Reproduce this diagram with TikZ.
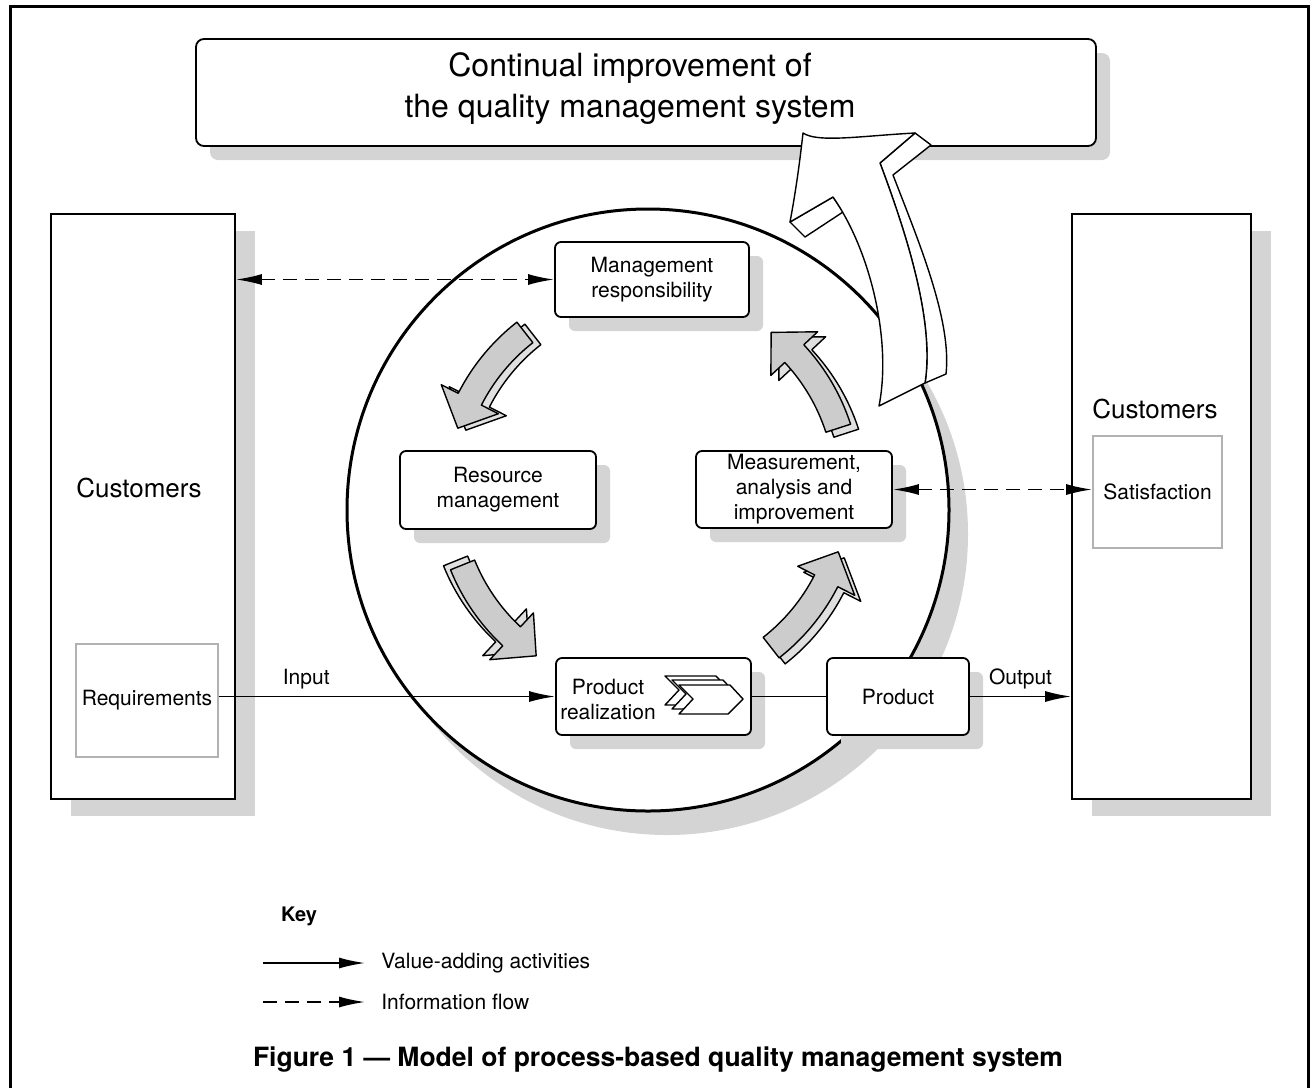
\documentclass[tikz,border=0pt]{standalone}
\usepackage{fontspec}
\setmainfont{TeX Gyre Heros}
\usetikzlibrary{arrows.meta,shadows}

\definecolor{shadegray}{gray}{0.83}
\definecolor{ringgray}{gray}{0.80}
\definecolor{ringside}{gray}{0.88}

\newcommand{\boxfont}{\fontsize{10.5}{12.5}\selectfont}
% one curved arrow of the process cycle, #1 = start angle
\newcommand{\cyclepath}[1]{(#1:93.5pt) arc[start angle=#1, end angle=#1+25, radius=93.5pt] -- (#1+25:84pt) -- (#1+34:100pt) -- (#1+25:116pt) -- (#1+25:106.5pt) arc[start angle=#1+25, end angle=#1, radius=106.5pt] -- cycle}

\tikzset{
  >={Latex[length=13pt,width=5.5pt]},
  procbox/.style={draw, line width=0.9pt, rounded corners=3pt, fill=white, align=center, font=\boxfont, inner sep=1pt,
    drop shadow={shadow xshift=7pt, shadow yshift=-7pt, fill=shadegray, opacity=1}},
  custbox/.style={draw, line width=0.8pt, fill=white, minimum width=92pt, minimum height=292.5pt,
    drop shadow={shadow xshift=10pt, shadow yshift=-8.5pt, fill=shadegray, opacity=1}},
  needbox/.style={draw=black!30, line width=0.8pt, fill=white, font=\boxfont, inner sep=0pt},
  flow/.style={line width=0.8pt, ->},
  info/.style={line width=0.9pt, dash pattern=on 7pt off 4pt, <->},
  ringface/.style={draw, line width=0.7pt, fill=ringgray, line join=round},
  ringback/.style={draw, line width=0.7pt, fill=ringside, line join=round},
  bigface/.style={draw, line width=0.7pt, fill=white, line join=round},
}

\begin{document}
\begin{tikzpicture}[x=0.5pt, y=-0.5pt]
\useasboundingbox (0,0) rectangle (1316,1088);
\draw[line width=1.5pt] (10,1088) -- (10,6) -- (1308,6) -- (1308,1088);

% the big circle
\fill[shadegray] (667,534) circle[radius=150.5pt];
\draw[line width=1.5pt, fill=white] (648,510) circle[radius=150.5pt];

\node[procbox, rounded corners=4pt, minimum width=450pt, minimum height=53.5pt] (topbox) at (646,92.5) {};
\node[font=\fontsize{16}{20.5}\selectfont, align=center] (toptext) at (630,89) {Continual improvement of\\the quality management system};

% customers
\node[custbox] (custL) at (143,506.5) {};
\node[custbox, minimum width=89.5pt] (custR) at (1161.5,506.5) {};
\node[font=\fontsize{13}{15}\selectfont] (custLtext) at (139,488) {Customers};
\node[font=\fontsize{13}{15}\selectfont] (custRtext) at (1155,409) {Customers};
\node[needbox, minimum width=71pt, minimum height=56.5pt] (need) at (147,700.5) {Requirements};
\node[needbox, minimum width=64.5pt, minimum height=56pt] (satis) at (1157.5,492) {Satisfaction};

% processes
\node[procbox, minimum width=97pt, minimum height=37.5pt] (mgmt) at (652,279.5) {Management\\responsibility};
\node[procbox, minimum width=98pt, minimum height=39pt] (resource) at (498,490) {Resource\\management};
\node[procbox, minimum width=98pt, minimum height=38.5pt] (measure) at (794,489.5) {Measurement,\\analysis and\\improvement};
\node[procbox, minimum width=97.5pt, minimum height=38.5pt] (realize) at (653.5,696.5) {};
\node[font=\boxfont, align=center] (realtext) at (608,699) {Product\\realization};
\node[procbox, minimum width=71pt, minimum height=38.5pt] (product) at (898,696.5) {Product};

\draw[line width=0.7pt, fill=white, line join=round] (665,676) -- (716,676) -- (729,690) -- (714,705) -- (665,705) -- (679,690) -- cycle;
\draw[line width=0.7pt, fill=white, line join=round] (672,680) -- (723,680) -- (736,694) -- (721,709) -- (672,709) -- (686,694) -- cycle;
\draw[line width=0.7pt, fill=white, line join=round] (679,685) -- (730,685) -- (743,699) -- (728,714) -- (679,714) -- (693,699) -- cycle;

% cycle arrows
\begin{scope}[shift={(648,490)}]
\draw[ringback, shift={(8,2)}] \cyclepath{128};
\draw[ringface] \cyclepath{128};
\draw[ringback, shift={(-7,-4)}] \cyclepath{202};
\draw[ringface] \cyclepath{202};
\draw[ringback, shift={(6,6)}] \cyclepath{308};
\draw[ringface] \cyclepath{308};
\draw[ringback, shift={(8,5)}] \cyclepath{18};
\draw[ringface] \cyclepath{18};
\end{scope}

% continual improvement arrow
\draw[bigface] (915,133) -- (931,145) -- (893,175) .. controls (918,240) and (952,320) .. (946,374) -- (925,383) .. controls (935,320) and (905,230) .. (880,163) -- cycle;
\draw[bigface] (790,222) -- (805,237) -- (843,212) -- (833,197) -- cycle;
\draw[bigface] (803,133) .. controls (818,143) and (860,136) .. (915,133) -- (880,163) .. controls (905,230) and (935,320) .. (925,383) -- (879,406) .. controls (892,340) and (870,250) .. (833,197) -- (790,222) .. controls (796,190) and (800,160) .. cycle;

% flows
\draw[info] (custL.east |- mgmt.west) -- (mgmt.west);
\draw[info] (measure.east) -- (measure.east -| satis.west);
\draw[flow] (need.east |- realize.west) -- node[above, pos=0.26, font=\boxfont] (inputlabel) {Input} (realize.west);
\draw[line width=0.8pt] (realize.east) -- (product.west);
\draw[flow] (product.east) -- node[above, font=\boxfont] (outputlabel) {Output} (custR.west |- product.east);

% key
\node[font=\bfseries\fontsize{10}{12}\selectfont, anchor=west] (key) at (274,916) {Key};
\coordinate (solidA) at (263,963);
\coordinate (solidB) at (365,963);
\coordinate (dashA) at (263,1002);
\coordinate (dashB) at (365,1002);
\draw[flow] (solidA) -- (solidB);
\draw[line width=0.8pt, dash pattern=on 7pt off 4pt, ->] (dashA) -- (dashB);
\node[font=\boxfont, anchor=west, inner sep=0pt] (valtext) at (381,963) {Value-adding activities};
\node[font=\boxfont, anchor=west, inner sep=0pt] (infotext) at (381,1002) {Information flow};

\node[font=\bfseries\fontsize{13.25}{16}\selectfont] (caption) at (658,1060) {Figure 1 — Model of process-based quality management system};
\end{tikzpicture}
\end{document}
